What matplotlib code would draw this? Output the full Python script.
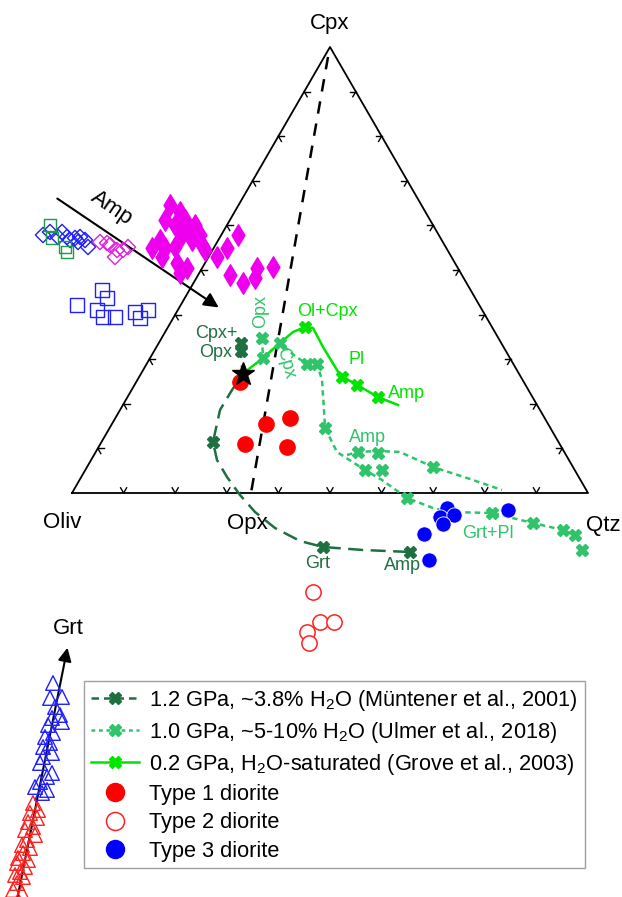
import numpy as np
import matplotlib.pyplot as plt
from matplotlib.lines import Line2D

plt.rcParams['font.family'] = ['Liberation Sans', 'DejaVu Sans']
plt.rcParams['mathtext.default'] = 'regular'

# diagram frame: Oliv - Qtz base, Cpx apex (plot coordinates, y down)
oliv = (72, 493)
qtz = (588, 493)
cpx = (330, 47)
opx = (251, 493)

# experimental liquid lines of descent
muntener_x = [241, 241, 243, 232, 220, 213, 217, 227, 240, 255, 275, 300, 323, 363, 410]
muntener_y = [343, 360, 374, 390, 410, 442, 460, 477, 495, 512, 528, 541, 547, 550, 552]
muntener_mx = [241, 241, 213, 323, 410]
muntener_my = [343, 351, 442, 547, 552]

ulmer_x = [262, 263, 280, 295, 307, 317, 322, 324, 325, 337, 365, 382, 407, 433, 450, 492, 533, 563, 575]
ulmer_y = [338, 358, 343, 356, 364, 364, 380, 410, 428, 452, 470, 480, 498, 508, 512, 513, 523, 530, 535]
ulmer_amp_x = [347, 358, 378, 400, 433, 467, 502]
ulmer_amp_y = [455, 452, 451, 452, 467, 478, 490]
ulmer_mx = [262, 263, 280, 307, 317, 325, 358, 378, 365, 382, 433, 407, 492, 533, 563, 575, 582]
ulmer_my = [338, 358, 343, 364, 364, 428, 452, 453, 470, 470, 467, 498, 513, 523, 530, 535, 550]

grove_x = [245, 263, 280, 293, 305, 313, 323, 340, 357, 378, 398]
grove_y = [372, 358, 343, 332, 327, 328, 347, 375, 385, 397, 405]
grove_mx = [305, 342, 357, 378]
grove_my = [327, 377, 385, 397]

# diorite samples
type1_x = [240, 266, 290, 245, 287]
type1_y = [382, 424, 418, 444, 447]
type2_x = [313, 320, 334, 307, 309]
type2_y = [592, 622, 622, 632, 643]
type3_x = [447, 440, 454, 443, 424, 508, 429]
type3_y = [508, 517, 515, 524, 534, 510, 560]

# amphibole compositions
amp_fill_x = [170, 180, 165, 175, 185, 190, 195, 200, 182, 192, 202, 205, 160, 152, 165, 175, 162, 177,
              180, 187, 238, 227, 217, 230, 243, 257, 255, 273]
amp_fill_y = [205, 212, 220, 225, 220, 230, 225, 235, 235, 240, 245, 250, 240, 248, 248, 247, 257, 263,
              273, 268, 235, 248, 257, 275, 283, 268, 278, 267]
amp_bdia_x = [43, 50, 62, 67, 75, 80, 85, 88, 78, 70, 58]
amp_bdia_y = [235, 232, 232, 237, 238, 237, 240, 247, 242, 240, 237]
amp_mdia_x = [100, 110, 117, 123, 128, 115, 107]
amp_mdia_y = [242, 245, 250, 250, 247, 257, 243]
amp_gsq_x = [50, 52, 65, 67]
amp_gsq_y = [225, 238, 247, 252]
amp_bsq_x = [77, 102, 107, 97, 103, 115, 135, 140, 148]
amp_bsq_y = [305, 290, 298, 310, 317, 317, 312, 318, 310]

# garnet compositions
grt_blue_x = [53, 62, 50, 55, 60, 52, 48, 62, 53, 45, 50, 43, 52, 43, 40, 52, 47, 40, 35, 47, 42]
grt_blue_y = [683, 697, 698, 707, 715, 718, 725, 722, 733, 737, 743, 747, 753, 757, 763, 773, 777,
              782, 787, 790, 793]
grt_red_x = [33, 38, 30, 37, 28, 33, 25, 35, 27, 22, 30, 23, 18, 28, 17, 25, 20, 15, 23, 17, 13, 22]
grt_red_y = [803, 810, 813, 818, 822, 827, 830, 835, 840, 845, 848, 853, 858, 860, 863, 867, 872,
             875, 877, 883, 890, 893]

c_dark = '#1f7040'
c_mid = '#2fc46a'
c_bright = '#00e400'

fig = plt.figure(figsize=(6.22, 8.97), dpi=100)
ax = fig.add_axes([0, 0, 1, 1])
ax.set_xlim(0, 622)
ax.set_ylim(897, 0)
ax.axis('off')

# triangle
tri = np.array([oliv, qtz, cpx, oliv])
ax.plot(tri[:, 0], tri[:, 1], color='k', lw=1.3, zorder=2)

# chevron ticks every 10 %
verts = [np.array(oliv, float), np.array(qtz, float), np.array(cpx, float)]
for i in range(3):
    a, b = verts[i], verts[(i + 1) % 3]
    c = verts[(i + 2) % 3]
    for f in np.arange(0.1, 0.95, 0.1):
        p = a + f * (b - a)
        for d in (c - a, c - b):
            u = d / np.linalg.norm(d) * 6
            ax.plot([p[0], p[0] + u[0]], [p[1], p[1] + u[1]], color='k', lw=1.0, zorder=2)

# Cpx - Opx tie line
ax.plot([cpx[0] - 2, opx[0]], [cpx[1] + 10, opx[1]], color='k', lw=1.8, ls=(0, (5, 4)), zorder=2)

ax.text(330, 24, 'Cpx', fontsize=16, ha='center', va='center')
ax.text(62, 523, 'Oliv', fontsize=16, ha='center', va='center')
ax.text(247, 524, 'Opx', fontsize=16, ha='center', va='center')
ax.text(603, 526, 'Qtz', fontsize=16, ha='center', va='center')

# amphibole arrow
ax.annotate('', xy=(221, 309), xytext=(55, 197),
            arrowprops=dict(arrowstyle='-|>', color='k', lw=1.5, mutation_scale=22))
ax.text(112, 208, 'Amp', fontsize=16, ha='center', va='center', rotation=-34)

ax.scatter(amp_bdia_x, amp_bdia_y, marker='D', s=60, facecolors='none', edgecolors='#1f1fff', lw=1.0, zorder=3)
ax.scatter(amp_gsq_x, amp_gsq_y, marker='s', s=85, facecolors='none', edgecolors='#1f9a4a', lw=1.0, zorder=3)
ax.scatter(amp_mdia_x, amp_mdia_y, marker='D', s=60, facecolors='none', edgecolors='#e020e0', lw=1.0, zorder=3)
ax.scatter(amp_bsq_x, amp_bsq_y, marker='s', s=100, facecolors='none', edgecolors='#1f1fff', lw=1.0, zorder=3)
ax.scatter(amp_fill_x, amp_fill_y, marker='d', s=120, color='#ee00ee', edgecolors='#ee00ee', zorder=3)

# garnet arrow and points
ax.annotate('', xy=(68, 645), xytext=(17, 900),
            arrowprops=dict(arrowstyle='-|>', color='k', lw=1.5, mutation_scale=20))
ax.text(68, 628, 'Grt', fontsize=16, ha='center', va='center')
ax.scatter(grt_blue_x, grt_blue_y, marker='^', s=110, facecolors='none', edgecolors='#1f1fff', lw=1.0, zorder=3)
ax.scatter(grt_red_x, grt_red_y, marker='^', s=110, facecolors='none', edgecolors='#ff2020', lw=1.0, zorder=3)

# liquid lines of descent
ax.plot(muntener_x, muntener_y, color=c_dark, lw=1.8, ls=(0, (6, 3)), zorder=4)
ax.plot(muntener_mx, muntener_my, ls='none', marker='X', ms=8, color=c_dark, zorder=5)
ax.plot(ulmer_x, ulmer_y, color=c_mid, lw=1.8, ls=(0, (2.2, 1.6)), zorder=4)
ax.plot(ulmer_amp_x, ulmer_amp_y, color=c_mid, lw=1.8, ls=(0, (2.2, 1.6)), zorder=4)
ax.plot(ulmer_mx, ulmer_my, ls='none', marker='X', ms=8, color=c_mid, zorder=5)
ax.plot(grove_x, grove_y, color=c_bright, lw=1.8, zorder=4)
ax.plot(grove_mx, grove_my, ls='none', marker='X', ms=8, color=c_bright, zorder=5)

ax.text(216, 343, 'Cpx+\nOpx', fontsize=13, color=c_dark, ha='center', va='center', linespacing=1.15)
ax.text(318, 563, 'Grt', fontsize=13, color=c_dark, ha='center', va='center')
ax.text(402, 565, 'Amp', fontsize=13, color=c_dark, ha='center', va='center')
ax.text(261, 311, 'Opx', fontsize=13, color=c_mid, ha='center', va='center', rotation=90)
ax.text(285, 363, 'Cpx', fontsize=13, color=c_mid, ha='center', va='center', rotation=-75)
ax.text(367, 437, 'Amp', fontsize=13, color=c_mid, ha='center', va='center')
ax.text(488, 533, 'Grt+Pl', fontsize=13, color=c_mid, ha='center', va='center')
ax.text(327, 311, 'Ol+Cpx', fontsize=13, color=c_bright, ha='center', va='center')
ax.text(357, 360, 'Pl', fontsize=13, color=c_bright, ha='center', va='center')
ax.text(406, 393, 'Amp', fontsize=13, color=c_bright, ha='center', va='center')

# diorites
ax.plot(type1_x, type1_y, ls='none', marker='o', ms=11, color='#ff0000', zorder=6)
ax.plot(type2_x, type2_y, ls='none', marker='o', ms=11, mfc='white', mec='#ff2020', mew=1.1, zorder=6)
ax.plot(type3_x, type3_y, ls='none', marker='o', ms=11, color='#0000ff', mec='white', mew=0.6, zorder=6)

ax.plot([243], [374], ls='none', marker='*', ms=17, color='k', zorder=7)

handles = [
    Line2D([], [], color=c_dark, lw=1.8, ls=(0, (3, 2)), marker='X', ms=9),
    Line2D([], [], color=c_mid, lw=1.8, ls=(0, (1.5, 1.5)), marker='X', ms=9),
    Line2D([], [], color=c_bright, lw=1.8, marker='X', ms=9),
    Line2D([], [], ls='none', marker='o', ms=13, color='#ff0000'),
    Line2D([], [], ls='none', marker='o', ms=13, mfc='white', mec='#ff2020', mew=1.1),
    Line2D([], [], ls='none', marker='o', ms=13, color='#0000ff'),
]
labels = [
    '1.2 GPa, ~3.8% H$_2$O (Müntener et al., 2001)',
    '1.0 GPa, ~5-10% H$_2$O (Ulmer et al., 2018)',
    '0.2 GPa, H$_2$O-saturated (Grove et al., 2003)',
    'Type 1 diorite',
    'Type 2 diorite',
    'Type 3 diorite',
]
leg = ax.legend(handles, labels, loc='upper left', bbox_to_anchor=(84 / 622, 1 - 681 / 897),
                bbox_transform=fig.transFigure, fontsize=15.7, frameon=True, fancybox=False,
                edgecolor='#888888', handlelength=2.2, handletextpad=0.5, labelspacing=0.33,
                borderpad=0.3, borderaxespad=0)
leg.get_frame().set_linewidth(1.0)

fig.savefig('out.png', dpi=100)
